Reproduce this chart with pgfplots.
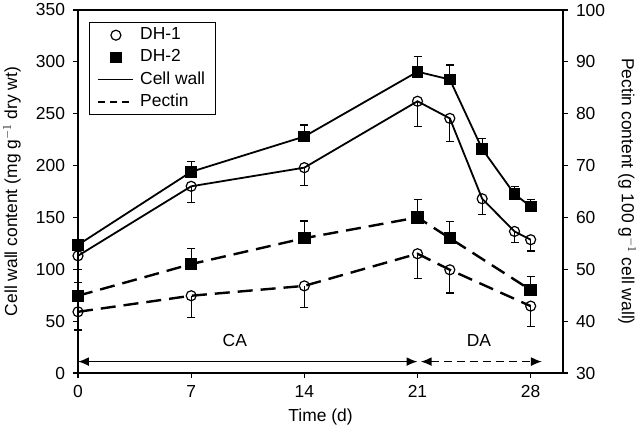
\documentclass[border=0pt]{standalone}
\usepackage{fontspec}
\setmainfont{Liberation Sans}
\usepackage{pgfplots}
\usepackage{pgfplotstable}
\pgfplotsset{compat=1.18}
\usetikzlibrary{arrows.meta}

\pgfplotstableread{
x y e
0 113 13
7 180 15.5
14 198 17.5
21 262 24
23 245.5 22
25 168 15.5
27 136.5 11
28 128.5 11
}\cwa
\pgfplotstableread{
x y e
0 123.5 5.5
7 194 10
14 228 11
21 290.5 14.5
23 283 14
25 216 10
27 172.5 7
28 160.5 7
}\cwb
\pgfplotstableread{
x y e
0 41.8 3.5
7 44.9 4.2
14 46.8 4.2
21 53 4.8
23 49.9 4.5
28 42.9 4
}\pea
\pgfplotstableread{
x y e
0 44.9 2.6
7 51 3
14 56 3.3
21 60 3.5
23 56 3.2
28 46 2.6
}\peb

\begin{document}
\fontsize{17.5}{21}\selectfont
\begin{tikzpicture}
\pgfplotsset{
  every axis/.append style={
    scale only axis, width=485bp, height=363bp,
    xmin=0, xmax=30,
    clip=false,
    axis line style={line width=1.3bp},
    tick style={line width=1.2bp, black},
    tick align=outside,
    major tick length=5bp,
    /pgf/number format/assume math mode=true,
    ticklabel style={font=\fontsize{17.5}{21}\selectfont},
    label style={font=\fontsize{17.5}{21}\selectfont},
  },
  cw/.style={black, line width=1.8bp, solid},
  pe/.style={black, line width=2.4bp, dash pattern=on 15bp off 8bp},
  m1/.style={mark=o, mark size=5bp, mark options={solid, line width=1.2bp, fill=white}},
  m2/.style={mark=square*, mark size=5bp, mark options={solid, fill=black}},
  ebase/.style={error bars/y explicit, error bars/error bar style={solid, line width=1.3bp, black}, error bars/error mark options={rotate=90, mark size=4bp, line width=1.3bp, solid, black}},
  eminus/.style={ebase, error bars/y dir=minus},
  eplus/.style={ebase, error bars/y dir=plus},
  limg/.style={legend image code/.code={\draw[mark repeat=2,mark phase=2,##1] plot coordinates {(0bp,0bp) (17.5bp,0bp) (35bp,0bp)};}},
}
\path[use as bounding box] (-78bp,-57bp) rectangle (562bp,373bp);
\begin{axis}[
  ymin=0, ymax=350,
  xtick={0,7,14,21,28},
  ytick={0,50,...,350},
  xtick pos=bottom, ytick pos=left,
  xlabel={Time (d)},
  ylabel={Cell wall content (mg g$^{-1}$ dry wt)},
  xlabel style={at={(axis description cs:0.5,-0.122)}, anchor=center},
  ylabel style={at={(axis description cs:-0.136,0.5)}, anchor=center, rotate=0},
  xticklabel style={yshift=-1bp},
  yticklabel style={xshift=-2bp},
]
\addplot[cw, m1, eminus] table[x=x, y=y, y error=e] {\cwa};
\addplot[cw, m2, eplus] table[x=x, y=y, y error=e] {\cwb};
\addplot[black, line width=1.6bp, {Latex[length=11bp,width=9bp]}-{Latex[length=11bp,width=9bp]}] coordinates {(0,11) (21,11)};
\addplot[black, line width=1.6bp, dash pattern=on 8bp off 5bp, {Latex[length=11bp,width=9bp]}-{Latex[length=11bp,width=9bp]}] coordinates {(21.2,11) (28.7,11)};
\node[anchor=base] at (axis cs:9.7,26) {CA};
\node[anchor=base] at (axis cs:24.8,26) {DA};
\end{axis}
\begin{axis}[
  ymin=30, ymax=100,
  ytick={30,40,...,100},
  axis y line*=right,
  axis x line=none,
  ylabel={Pectin content (g 100 g$^{-1}$ cell wall)},
  ylabel style={at={(axis description cs:1.132,0.5)}, anchor=center, rotate=180},
  yticklabel style={xshift=2bp},
  legend style={at={(axis description cs:0.0227,0.967)}, anchor=north west,
    draw=black, line width=1.2bp, fill=white,
    font=\fontsize{17.5}{21}\selectfont,
    inner xsep=8bp, inner ysep=1.5bp,
    cells={anchor=west},
    nodes={inner ysep=3.1bp, text height=12.5bp, text depth=3.5bp},
    row sep=0bp},
]
\addlegendimage{only marks, m1, black, limg}
\addlegendentry{\hspace*{4bp}DH-1}
\addlegendimage{only marks, m2, black, limg}
\addlegendentry{\hspace*{4bp}DH-2}
\addlegendimage{black, line width=1.6bp, limg}
\addlegendentry{\hspace*{4bp}Cell wall}
\addlegendimage{black, line width=1.6bp, dash pattern=on 7bp off 5bp, limg}
\addlegendentry{\hspace*{4bp}Pectin}
\addplot[forget plot, pe, m1, eminus] table[x=x, y=y, y error=e] {\pea};
\addplot[forget plot, pe, m2, eplus] table[x=x, y=y, y error=e] {\peb};
\end{axis}
\end{tikzpicture}
\end{document}
